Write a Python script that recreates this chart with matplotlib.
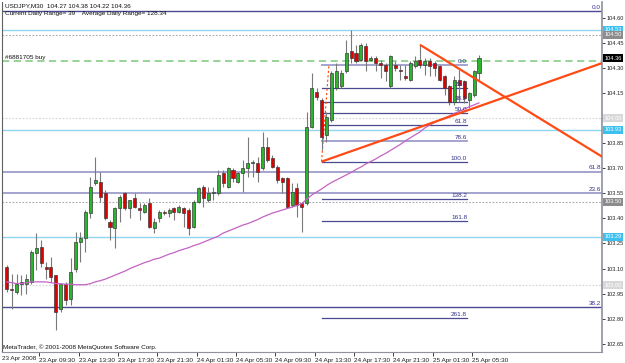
import numpy as np
import matplotlib.pyplot as plt
from matplotlib.transforms import blended_transform_factory

plt.rcParams['font.family'] = ['Liberation Sans Narrow', 'Liberation Sans', 'DejaVu Sans']
FS = 4.6
FS_R = 4.1

# USDJPY M30 bars
opens = [103.11, 102.98, 102.96, 103.01, 103.01, 103.02, 103.19, 103.23, 103.11, 103.11,
         103.06, 102.86, 103.01, 102.92, 103.10, 103.26, 103.28, 103.43, 103.61, 103.62,
         103.55, 103.38, 103.34, 103.46, 103.55, 103.46, 103.52, 103.46, 103.44, 103.49,
         103.34, 103.40, 103.44, 103.43, 103.46, 103.44, 103.46, 103.45, 103.35, 103.50,
         103.59, 103.51, 103.55, 103.55, 103.67, 103.59, 103.69, 103.62, 103.67, 103.70,
         103.73, 103.73, 103.70, 103.83, 103.76, 103.71, 103.64, 103.64, 103.48, 103.58,
         103.49, 103.49, 103.95, 104.16, 104.11, 103.90, 103.99, 104.18, 104.19, 104.28,
         104.40, 104.39, 104.35, 104.43, 104.35, 104.36, 104.33, 104.32, 104.19, 104.32,
         104.29, 104.25, 104.23, 104.31, 104.35, 104.32, 104.34, 104.33, 104.31, 104.25,
         104.19, 104.10, 104.23, 104.22, 104.11, 104.14, 104.27]
highs = [103.12, 103.07, 103.07, 103.06, 103.07, 103.21, 103.31, 103.27, 103.14, 103.17,
         103.06, 103.01, 103.02, 103.16, 103.32, 103.32, 103.45, 103.65, 103.77, 103.68,
         103.57, 103.39, 103.47, 103.54, 103.56, 103.51, 103.55, 103.49, 103.49, 103.52,
         103.40, 103.45, 103.45, 103.46, 103.47, 103.48, 103.47, 103.46, 103.51, 103.59,
         103.60, 103.59, 103.59, 103.69, 103.69, 103.71, 103.70, 103.68, 103.75, 103.89,
         103.75, 103.77, 103.92, 103.89, 103.78, 103.72, 103.65, 103.65, 103.61, 103.61,
         103.50, 104.04, 104.27, 104.18, 104.12, 104.04, 104.28, 104.33, 104.29, 104.47,
         104.53, 104.44, 104.45, 104.45, 104.37, 104.37, 104.35, 104.33, 104.38, 104.34,
         104.32, 104.32, 104.34, 104.37, 104.44, 104.36, 104.36, 104.34, 104.32, 104.26,
         104.20, 104.25, 104.29, 104.23, 104.16, 104.29, 104.38]
lows = [102.96, 102.86, 102.95, 102.94, 102.95, 103.01, 103.09, 103.11, 103.04, 103.02,
        102.73, 102.84, 102.88, 102.88, 103.08, 103.14, 103.20, 103.40, 103.60, 103.50,
        103.39, 103.27, 103.22, 103.38, 103.45, 103.40, 103.46, 103.39, 103.43, 103.34,
        103.31, 103.38, 103.42, 103.41, 103.39, 103.43, 103.35, 103.30, 103.34, 103.49,
        103.47, 103.50, 103.51, 103.54, 103.59, 103.58, 103.62, 103.61, 103.56, 103.65,
        103.65, 103.62, 103.69, 103.74, 103.70, 103.61, 103.55, 103.46, 103.47, 103.41,
        103.32, 103.48, 103.94, 104.11, 103.81, 103.86, 103.98, 104.17, 104.18, 104.27,
        104.33, 104.33, 104.34, 104.28, 104.34, 104.28, 104.24, 104.22, 104.18, 104.28,
        104.23, 104.23, 104.22, 104.30, 104.30, 104.26, 104.25, 104.25, 104.22, 104.14,
        104.08, 104.08, 104.10, 104.09, 104.06, 104.13, 104.22]
closes = [102.98, 102.97, 103.01, 103.02, 103.04, 103.20, 103.22, 103.13, 103.10, 103.05,
          102.84, 103.01, 102.91, 103.08, 103.26, 103.28, 103.44, 103.59, 103.63, 103.53,
          103.40, 103.35, 103.46, 103.53, 103.46, 103.51, 103.47, 103.45, 103.48, 103.35,
          103.38, 103.44, 103.43, 103.45, 103.44, 103.47, 103.43, 103.34, 103.50, 103.58,
          103.52, 103.55, 103.56, 103.66, 103.61, 103.70, 103.64, 103.67, 103.70, 103.73,
          103.74, 103.68, 103.83, 103.75, 103.71, 103.63, 103.62, 103.47, 103.56, 103.48,
          103.47, 103.95, 104.18, 104.13, 103.89, 104.01, 104.27, 104.28, 104.27, 104.39,
          104.36, 104.34, 104.44, 104.34, 104.36, 104.33, 104.32, 104.28, 104.37, 104.30,
          104.28, 104.24, 104.33, 104.34, 104.32, 104.34, 104.31, 104.30, 104.23, 104.18,
          104.10, 104.23, 104.20, 104.12, 104.15, 104.28, 104.36]
ma = [103.020, 103.015, 103.010, 103.010, 103.015, 103.020, 103.020, 103.020, 103.020, 103.015,
      103.010, 103.009, 103.006, 103.006, 103.003, 103.003, 103.003, 103.009, 103.020, 103.027,
      103.036, 103.048, 103.060, 103.072, 103.084, 103.099, 103.111, 103.123, 103.135, 103.144,
      103.156, 103.162, 103.174, 103.186, 103.195, 103.207, 103.216, 103.225, 103.237, 103.246,
      103.258, 103.270, 103.282, 103.294, 103.312, 103.324, 103.336, 103.348, 103.360, 103.369,
      103.381, 103.393, 103.408, 103.420, 103.432, 103.441, 103.450, 103.459, 103.468, 103.477,
      103.489, 103.516, 103.540, 103.558, 103.576, 103.597, 103.615, 103.630, 103.645, 103.660,
      103.675, 103.693, 103.708, 103.726, 103.741, 103.756, 103.774, 103.789, 103.807, 103.825,
      103.843, 103.864, 103.882, 103.900, 103.918, 103.942, 103.960, 103.975, 103.990, 104.002,
      104.014, 104.029, 104.041, 104.056, 104.068, 104.080, 104.092]

time_labels = ['23 Apr 09:30', '23 Apr 13:30', '23 Apr 17:30', '23 Apr 21:30', '24 Apr 01:30',
               '24 Apr 05:30', '24 Apr 09:30', '24 Apr 13:30', '24 Apr 17:30', '24 Apr 21:30',
               '25 Apr 01:30', '25 Apr 05:30']
time_label_bars = [7, 15, 23, 31, 39, 47, 55, 63, 71, 79, 87, 95]
price_ticks = [102.65, 102.80, 102.95, 103.10, 103.25, 103.40, 103.55, 103.70, 103.85,
               104.00, 104.15, 104.30, 104.45, 104.60]

# full width fibo lines
wide_fib_labels = ['0.0', '61.8', '23.6', '38.2']
wide_fib_prices = [104.64, 103.68, 103.55, 102.87]
# fibo retracement on the last swing
fib_levels = [0.0, 23.6, 38.2, 50.0, 61.8, 78.6, 100.0, 138.2, 161.8, 261.8]
fib_high, fib_low = 104.32, 103.74
# daily high / low / open lines
sky_prices = [104.53, 103.93, 103.29]
round_prices = [104.50, 104.00, 103.50, 103.00]
order_price = 104.345
bid_price = 104.36
trend_up = [(64, 103.74), (121, 104.33)]
trend_down = [(84, 104.44), (121, 103.77)]

fig = plt.figure(figsize=(6.25, 3.63), dpi=100)
ax = fig.add_axes([2 / 625, 11 / 363, 600 / 625, 350 / 363])
ax.set_xlim(-0.95, 121.0)
ax.set_ylim(102.60, 104.696)

navy = '#4a4a92'
pale = '#9c9cca'
for lab, p in zip(wide_fib_labels, wide_fib_prices):
    col = pale if lab in ('61.8', '23.6') else navy
    ax.axhline(p, color=col, lw=1.3 if col == pale else 1.0, zorder=1)
    ax.text(120.8, p + 0.008, lab, ha='right', va='bottom', fontsize=FS, color='#33338a')

for p in sky_prices:
    ax.axhline(p, color='#8fd6f0', lw=1.0, zorder=1)
for p in round_prices:
    dark = p in (104.50, 103.50)
    ax.axhline(p, color='#a8a8a8' if dark else '#d4d4d4', lw=0.8,
               ls=(0, (1.5, 1.5)), zorder=1)
ax.axhline(order_price, color='#8fd08f', lw=1.3, ls=(0, (4, 2.5)), zorder=1)

fib_end = 93.6
for lv in fib_levels:
    p = fib_high - lv / 100 * (fib_high - fib_low)
    light = lv in (0.0, 78.6)
    ax.plot([64, fib_end], [p, p], color=pale if light else navy,
            lw=1.3 if light else 0.9, zorder=2)
    ax.text(fib_end, p + 0.006, '%.1f' % lv, ha='right', va='bottom',
            fontsize=FS, color='#33338a', zorder=6)
ax.plot([64, 65.5], [fib_low, fib_high], color='#ff4500', lw=0.8, ls=(0, (2, 2)), zorder=2)

x = np.arange(len(opens))
o, h, l, c = map(np.array, (opens, highs, lows, closes))
up = c >= o
ax.vlines(x, l, h, color='#7a7a7a', lw=0.8, zorder=3)
ax.bar(x, np.maximum(np.abs(c - o), 0.005), bottom=np.minimum(o, c), width=0.62,
       color=np.where(up, '#2cb52c', '#e00000'), edgecolor='#3c3c3c', linewidth=0.5, zorder=4)

ax.plot(x, ma, color='#c463c4', lw=0.9, zorder=5)

for (x0, y0), (x1, y1) in (trend_up, trend_down):
    k = (y1 - y0) / (x1 - x0)
    ax.plot([x0, 125], [y0, y0 + k * (125 - x0)], color='#ff4a14', lw=1.6,
            zorder=6, solid_capstyle='butt')

# axes styling
ax.spines['top'].set_visible(False)
ax.spines['left'].set_color('#606060')
ax.spines['bottom'].set_color('#9090a0')
ax.spines['right'].set_color('#9090a0')
ax.spines['right'].set_linewidth(1.2)
ax.yaxis.tick_right()
ax.set_yticks(price_ticks)
# the 104.00 tick is covered by its round-number box
ax.set_yticklabels(['' if p == 104.00 else '%.2f' % p for p in price_ticks])
ax.tick_params(axis='y', length=2, width=0.6, pad=1.0, labelsize=FS_R, colors='#202020')
ax.set_xticks([b - 0.4 for b in time_label_bars])
ax.set_xticklabels(time_labels, ha='left')
ax.tick_params(axis='x', length=3, width=0.6, pad=1.5, labelsize=FS, colors='#202020')
ax.text(0.0, -0.012, '23 Apr 2008', transform=ax.transAxes, ha='left', va='top',
        fontsize=FS, color='#202020')

# price boxes on the right axis
tr = blended_transform_factory(ax.transAxes, ax.transData)
boxes = [(104.53, '#3cc0f0', 'white'), (104.50, '#8c8c8c', 'white'),
         (bid_price, '#000000', 'white'), (104.00, '#d8d8d8', 'white'),
         (103.93, '#3cc0f0', 'white'), (103.50, '#8c8c8c', 'white'),
         (103.29, '#3cc0f0', 'white'), (103.00, '#d8d8d8', 'white')]
for p, bg, fg in boxes:
    ax.text(1.004, p, '%.2f' % p, transform=tr, ha='left', va='center', fontsize=FS_R,
            color=fg, clip_on=False, zorder=10,
            bbox=dict(boxstyle='square,pad=0.25', fc=bg, ec='none'))

fig.text(5 / 625, 1 - 6 / 363, 'USDJPY,M30  104.27 104.38 104.22 104.36', fontsize=FS,
         va='center', color='#101010')
fig.text(5 / 625, 1 - 14 / 363, 'Current Daily Range= 39    Average Daily Range= 128.34',
         fontsize=FS, va='center', color='#101010')
fig.text(5 / 625, 1 - 57 / 363, '#6881705 buy', fontsize=FS, va='center', color='#101010')
fig.text(3 / 625, 1 - 347 / 363, 'MetaTrader, \u00a9 2001-2008 MetaQuotes Software Corp.',
         fontsize=FS, va='center', color='#101010')

fig.savefig('out.png', dpi=100)
